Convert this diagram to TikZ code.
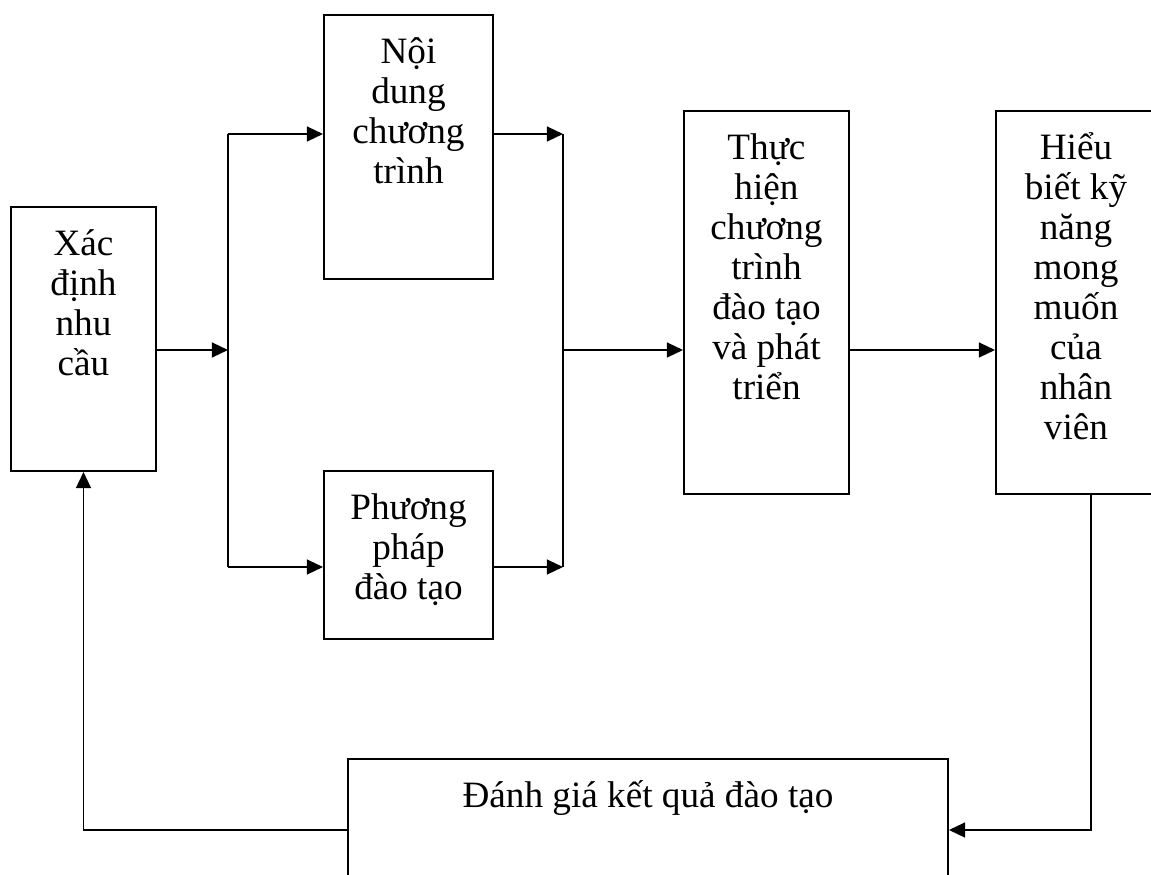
\documentclass[tikz,border=0pt]{standalone}
\usepackage{fontspec}
\setmainfont{Liberation Serif}
\usetikzlibrary{arrows.meta}
\newcommand\px{0.4032pt}
\newcommand\topstrut{\rule{0pt}{16pt}}

\begin{document}
\begin{tikzpicture}[x=0.4032pt, y=-0.4032pt, line width=0.8pt,
  khung/.style={draw, inner sep=0pt, anchor=north west},
  chu/.style={anchor=north, inner sep=0pt, yshift=-3.4pt, align=center,
    font=\fontsize{15}{16.13}\selectfont},
  muiten/.style={-{Triangle[length=6.5pt,width=6pt]}}]
  \useasboundingbox (0,0) rectangle (1151,875);
  \clip (0,0) rectangle (1151,875);
  % cac khung
  \node[khung, minimum width=145*\px, minimum height=264*\px] (xd) at (10,206) {};
  \node[khung, minimum width=169*\px, minimum height=264*\px] (nd) at (323,14) {};
  \node[khung, minimum width=169*\px, minimum height=168*\px] (pp) at (323,470) {};
  \node[khung, minimum width=165*\px, minimum height=383*\px] (th) at (683,110) {};
  \node[khung, minimum width=160*\px, minimum height=383*\px] (hb) at (995,110) {};
  \node[khung, minimum width=600*\px, minimum height=150*\px] (dg) at (347,758) {};
  % chu trong khung
  \node[chu] (xd-t) at (xd.north) {\topstrut Xác\\định\\nhu\\cầu};
  \node[chu] (nd-t) at (nd.north) {\topstrut Nội\\dung\\chương\\trình};
  \node[chu] (pp-t) at (pp.north) {\topstrut Phương\\pháp\\đào tạo};
  \node[chu] (th-t) at (th.north) {\topstrut Thực\\hiện\\chương\\trình\\đào tạo\\và phát\\triển};
  \node[chu] (hb-t) at (hb.north) {\topstrut Hiểu\\biết kỹ\\năng\\mong\\muốn\\của\\nhân\\viên};
  \node[chu] (dg-t) at (dg.north) {\topstrut Đánh giá kết quả đào tạo};
  % diem re nhanh
  \coordinate (r1) at (228,350);
  \coordinate (r1t) at (228,134);
  \coordinate (r1b) at (228,567);
  \coordinate (r2) at (563,350);
  \coordinate (r2t) at (563,134);
  \coordinate (r2b) at (563,567);
  \coordinate (g1) at (1091,830);
  % mui ten
  \draw[muiten] (r1 -| xd.east) -- (r1);
  \draw (r1t) -- (r1b);
  \draw[muiten] (r1t) -- (r1t -| nd.west);
  \draw[muiten] (r1b) -- (r1b -| pp.west);
  \draw[muiten] (r2t -| nd.east) -- (r2t);
  \draw[muiten] (r2b -| pp.east) -- (r2b);
  \draw (r2t) -- (r2b);
  \draw[muiten] (r2) -- (r2 -| th.west);
  \draw[muiten] (r2 -| th.east) -- (r2 -| hb.west);
  \draw[muiten] (g1 |- hb.south) -- (g1) -- (g1 -| dg.east);
  \draw[muiten] (g1 -| dg.west) -- (g1 -| xd.south) -- (xd.south);
\end{tikzpicture}
\end{document}
